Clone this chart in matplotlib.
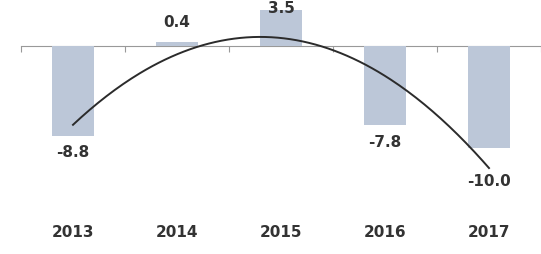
import numpy as np
import matplotlib.pyplot as plt

years = ["2013", "2014", "2015", "2016", "2017"]
values = [-8.8, 0.4, 3.5, -7.8, -10.0]

bar_color = "#bcc7d8"
text_color = "#333333"

fig = plt.figure(figsize=(5.41, 2.54), dpi=100)
ax = fig.add_axes([21 / 541, 0, 520 / 541, 1])

x = np.arange(len(years))
ax.bar(x, values, width=0.4, color=bar_color, zorder=2)

# polynomial (order 2) trendline through the values
coef = np.polyfit(x, values, 2)
xs = np.linspace(0, len(years) - 1, 200)
ax.plot(xs, np.polyval(coef, xs), color="#2b2b2b", lw=1.4, zorder=3)

# value labels
for xi, v in zip(x, values):
    if v >= 3:
        # no room above the tallest bar: sit at the top edge
        ax.text(xi, 4.45, f"{v:.1f}", ha="center", va="top",
                fontsize=11, fontweight="bold", color=text_color, zorder=4)
    elif v >= 0:
        ax.text(xi, v + 1.2, f"{v:.1f}", ha="center", va="bottom",
                fontsize=11, fontweight="bold", color=text_color)
    else:
        off = 0.9 if xi != 4 else 2.6
        ax.text(xi, v - off, f"{v:.1f}", ha="center", va="top",
                fontsize=11, fontweight="bold", color=text_color)

# year labels
for xi, y in zip(x, years):
    ax.text(xi, -18.3, y, ha="center", va="center",
            fontsize=11, fontweight="bold", color=text_color)

ax.set_xlim(-0.5, len(years) - 0.5)
ax.set_ylim(-20.4, 4.5)

for s in ["top", "right", "left"]:
    ax.spines[s].set_visible(False)
ax.spines["bottom"].set_position(("data", 0))
ax.spines["bottom"].set_color("#999999")
ax.spines["bottom"].set_zorder(1)
ax.set_yticks([])
ax.set_xticks(np.arange(-0.5, len(years), 1.0))
ax.tick_params(axis="x", length=4, color="#999999", labelbottom=False)

fig.savefig("out.png", dpi=100)
